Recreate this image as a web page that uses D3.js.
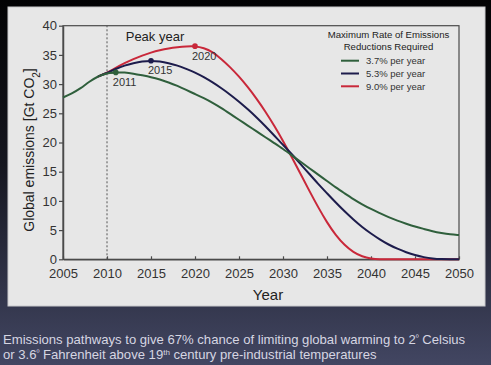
<!DOCTYPE html>
<html>
<head>
<meta charset="utf-8">
<script src="https://cdn.jsdelivr.net/npm/d3@7/dist/d3.min.js"></script>
<style>
html,body{margin:0;padding:0;background:#000;}
svg{display:block;}
</style>
</head>
<body>
<svg id="chart" width="491" height="365"></svg>
<script>
// ---- data ----
const histYears = [2005, 2006, 2007, 2008, 2009, 2010];
const histValues = [27.7, 28.4, 29.3, 30.4, 31.3, 31.9];
const pathYears = [2010, 2011, 2012, 2013, 2014, 2015, 2016, 2017, 2018, 2019,
  2020, 2021, 2022, 2023, 2024, 2025, 2026, 2027, 2028, 2029,
  2030, 2031, 2032, 2033, 2034, 2035, 2036, 2037, 2038, 2039,
  2040, 2041, 2042, 2043, 2044, 2045, 2046, 2047, 2048, 2049, 2050];
const rate37 = [31.9, 32.0, 32.0, 31.8, 31.5, 31.2, 30.8, 30.3, 29.7, 29.0,
  28.3, 27.6, 26.8, 25.9, 24.9, 23.9, 22.9, 21.9, 20.9, 19.9,
  18.9, 17.8, 16.7, 15.6, 14.5, 13.4, 12.3, 11.3, 10.3, 9.4,
  8.6, 7.9, 7.2, 6.6, 6.1, 5.6, 5.2, 4.8, 4.5, 4.25, 4.15];
const rate53 = [31.9, 32.6, 33.2, 33.6, 33.9, 34.0, 33.9, 33.6, 33.2, 32.6,
  32.0, 31.2, 30.3, 29.3, 28.2, 27.0, 25.7, 24.3, 22.8, 21.2,
  19.6, 18.0, 16.3, 14.6, 12.9, 11.3, 9.7, 8.2, 6.8, 5.5,
  4.4, 3.4, 2.5, 1.8, 1.2, 0.7, 0.35, 0.12, 0.02, 0, 0];
const rate90 = [31.9, 32.8, 33.6, 34.3, 34.9, 35.4, 35.8, 36.1, 36.3, 36.45,
  36.5, 36.2, 35.5, 34.3, 32.9, 31.3, 29.5, 27.5, 25.3, 22.9,
  20.3, 17.5, 14.6, 11.7, 8.9, 6.3, 4.1, 2.4, 1.2, 0.45,
  0.1, 0, 0, 0, 0, 0, 0, 0, 0, 0, 0];
const seriesNames = ["3.7% per year", "5.3% per year", "9.0% per year"];
const seriesColors = ["#2f5f3c", "#1d1c4c", "#c9283a"];
const peakYears = [2011, 2015, 2020];
const peakValues = [32.0, 34.0, 36.5];
const xTicks = [2005, 2010, 2015, 2020, 2025, 2030, 2035, 2040, 2045, 2050];
const yTicks = [0, 5, 10, 15, 20, 25, 30, 35, 40];

const svg = d3.select("#chart");
const defs = svg.append("defs");
const bg = defs.append("linearGradient").attr("id", "bg").attr("x1", 0).attr("y1", 0).attr("x2", 0).attr("y2", 1);
bg.append("stop").attr("offset", "0%").attr("stop-color", "#030304");
bg.append("stop").attr("offset", "45%").attr("stop-color", "#15161f");
bg.append("stop").attr("offset", "100%").attr("stop-color", "#424662");
svg.append("rect").attr("width", 491).attr("height", 365).attr("fill", "url(#bg)");

// panel
svg.append("rect").attr("x", 8).attr("y", 7).attr("width", 477).attr("height", 299)
  .attr("fill", "#e7e7e7").attr("stroke", "#c9c9cc").attr("stroke-width", 1);

const x = d3.scaleLinear().domain([2005, 2050]).range([63, 459]);
const y = d3.scaleLinear().domain([0, 40]).range([259.3, 25.7]);
const font = "'Liberation Sans', Arial, Helvetica, sans-serif";

// frame
svg.append("rect").attr("x", x(2005)).attr("y", y(40)).attr("width", x(2050) - x(2005)).attr("height", y(0) - y(40))
  .attr("fill", "none").attr("stroke", "#4a4a4a").attr("stroke-width", 1.2);

// dashed 2010 line
svg.append("line").attr("x1", x(2010)).attr("x2", x(2010)).attr("y1", y(0)).attr("y2", y(40))
  .attr("stroke", "#555").attr("stroke-width", 1).attr("stroke-dasharray", "2,2");

// axes
const xAxis = svg.append("g").attr("transform", `translate(0,${y(0)})`)
  .call(d3.axisBottom(x).tickValues(xTicks).tickFormat(d3.format("d")).tickSizeInner(-3).tickSizeOuter(0).tickPadding(9));
const yAxis = svg.append("g").attr("transform", `translate(${x(2005)},0)`)
  .call(d3.axisLeft(y).tickValues(yTicks).tickSizeInner(4).tickSizeOuter(0).tickPadding(2));
[xAxis, yAxis].forEach(a => {
  a.select(".domain").attr("stroke", "#4a4a4a").attr("stroke-width", 1.5);
  a.selectAll(".tick line").attr("stroke", "#4a4a4a").attr("stroke-width", 1.2);
  a.selectAll(".tick text").attr("fill", "#333").style("font-family", font).style("font-size", "13px");
});

// lines
const line = d3.line().x(d => x(d[0])).y(d => y(d[1])).curve(d3.curveBasis);
svg.append("path").datum(histYears.map((yr, i) => [yr, histValues[i]]).concat([[2011, rate37[1]]]))
  .attr("d", d3.line().x(d => x(d[0])).y(d => y(d[1])).curve(d3.curveMonotoneX))
  .attr("fill", "none").attr("stroke", seriesColors[0]).attr("stroke-width", 2);
[rate90, rate53, rate37].forEach((vals, k) => {
  const idx = 2 - k;
  svg.append("path").datum([[2009, histValues[4]]].concat(pathYears.map((yr, i) => [yr, vals[i]])))
    .attr("d", line).attr("fill", "none").attr("stroke", seriesColors[idx]).attr("stroke-width", 2);
});

// peak markers
peakYears.forEach((yr, i) => {
  svg.append("circle").attr("cx", x(yr)).attr("cy", y(peakValues[i])).attr("r", 2.8).attr("fill", seriesColors[i]);
  svg.append("text").attr("x", x(yr) - 3).attr("y", y(peakValues[i]) + 13.5)
    .attr("fill", "#333").style("font-family", font).style("font-size", "11px")
    .text(String(yr));
});

svg.append("text").attr("x", 155).attr("y", 41).attr("text-anchor", "middle").attr("fill", "#222")
  .style("font-family", font).style("font-size", "13px").text("Peak year");

// legend
const lg = svg.append("g");
["Maximum Rate of Emissions", "Reductions Required"].forEach((t, i) => {
  lg.append("text").attr("x", 388.5).attr("y", 38 + i * 11.7).attr("text-anchor", "middle").attr("fill", "#222")
    .style("font-family", font).style("font-size", "9.6px").text(t);
});
seriesNames.forEach((n, i) => {
  const yy = 60.7 + i * 12.8;
  lg.append("line").attr("x1", 341).attr("x2", 359).attr("y1", yy).attr("y2", yy)
    .attr("stroke", seriesColors[i]).attr("stroke-width", 2);
  lg.append("text").attr("x", 366).attr("y", yy + 3.3).attr("fill", "#333")
    .style("font-family", font).style("font-size", "9.5px").text(n);
});

// axis titles
const yl = svg.append("text").attr("transform", "translate(34,150) rotate(-90)").attr("text-anchor", "middle")
  .attr("fill", "#222").style("font-family", font).style("font-size", "14px");
yl.append("tspan").text("Global emissions [Gt CO");
yl.append("tspan").attr("baseline-shift", "sub").style("font-size", "10px").text("2");
yl.append("tspan").text("]");
svg.append("text").attr("x", 268).attr("y", 300).attr("text-anchor", "middle").attr("fill", "#222")
  .style("font-family", font).style("font-size", "15px").text("Year");

// caption
const cap = svg.append("g").style("font-family", font).style("font-size", "13.1px").attr("fill", "#d6d6e2");
const c1 = cap.append("text").attr("x", 3).attr("y", 344);
c1.append("tspan").text("Emissions pathways to give 67% chance of limiting global warming to 2");
c1.append("tspan").attr("baseline-shift", "super").style("font-size", "8px").text("º");
c1.append("tspan").text(" Celsius");
const c2 = cap.append("text").attr("x", 3).attr("y", 359);
c2.append("tspan").text("or 3.6");
c2.append("tspan").attr("baseline-shift", "super").style("font-size", "8px").text("º");
c2.append("tspan").text(" Fahrenheit above 19");
c2.append("tspan").attr("baseline-shift", "super").style("font-size", "8px").text("th");
c2.append("tspan").text(" century pre-industrial temperatures");
</script>
</body>
</html>
